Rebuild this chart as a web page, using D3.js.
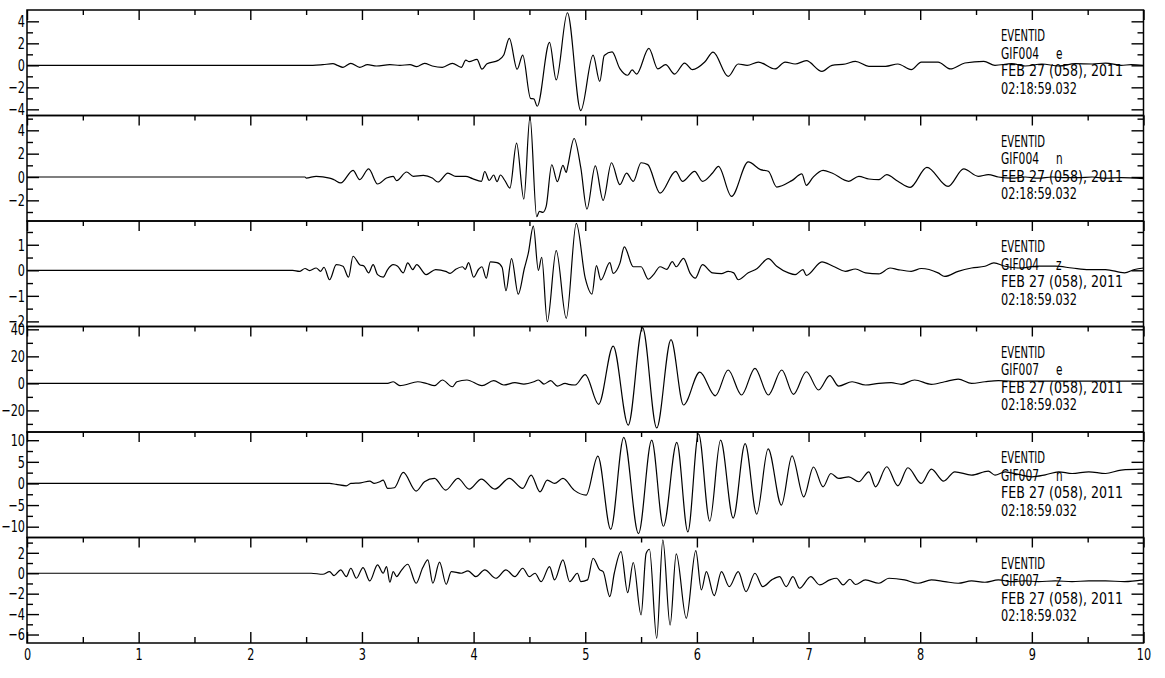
<!DOCTYPE html>
<html>
<head>
<meta charset="utf-8">
<script src="https://cdn.jsdelivr.net/npm/d3@7"></script>
<style>
  body { margin: 0; background: #fff; }
  svg text { font-family: "DejaVu Sans Condensed", "Liberation Sans Narrow", sans-serif; fill: #000; }
</style>
</head>
<body>
<svg id="chart" width="1165" height="678"></svg>
<script>
/* Data */
const xTicks = [0, 1, 2, 3, 4, 5, 6, 7, 8, 9, 10];
const xMinorTicks = [0.5, 1.5, 2.5, 3.5, 4.5, 5.5, 6.5, 7.5, 8.5, 9.5];
const eventLabel = 'EVENTID';
const dateLabel = 'FEB 27 (058), 2011';
const timeLabel = '02:18:59.032';
const stations = ['GIF004', 'GIF004', 'GIF004', 'GIF007', 'GIF007', 'GIF007'];
const components = ['e', 'n', 'z', 'e', 'n', 'z'];

const yDomains = [[-4.56, 5.03], [-3.77, 5.27], [-2.2, 1.93], [-36, 42.1], [-12.5, 11.9], [-6.83, 3.5]];
const yMajorTicks = [[-4, -2, 0, 2, 4], [-2, 0, 2, 4], [-2, -1, 0, 1], [-20, 0, 20, 40], [-10, -5, 0, 5, 10], [-6, -4, -2, 0, 2]];
const yMinorTicks = [[-3, -1, 1, 3], [-3, -1, 1, 3, 5], [-1.5, -0.5, 0.5, 1.5], [-30, -10, 10, 30], [-7.5, -2.5, 2.5, 7.5], [-5, -3, -1, 1, 3]];

// [seconds, amplitude]
const gif004e = [[0,0],[2.56,0],[2.65,0.06],[2.74,0.15],[2.78,0],[2.83,-0.18],[2.9,0.18],[2.98,-0.18],[3.05,0.06],[3.13,-0.06],[3.25,0.06],[3.34,0],[3.43,0.06],[3.49,-0.12],[3.56,0.18],[3.63,-0.06],[3.72,-0.18],[3.81,0.18],[3.89,-0.18],[3.93,0.48],[3.96,0.33],[4.03,0.55],[4.075,-0.35],[4.12,0.15],[4.22,0.45],[4.27,0.94],[4.32,2.45],[4.39,-0.35],[4.44,0.93],[4.51,-3.0],[4.54,-3.05],[4.57,-3.72],[4.68,2.09],[4.74,-1.33],[4.84,4.78],[4.96,-4.12],[5.07,0.92],[5.13,-1.46],[5.17,0.9],[5.24,1.22],[5.31,-0.3],[5.38,-0.9],[5.42,-0.42],[5.46,-0.79],[5.57,1.54],[5.65,-0.33],[5.72,0.06],[5.8,-0.79],[5.89,0.21],[5.96,-0.39],[6.07,0.3],[6.145,1.2],[6.28,-1.0],[6.37,0.12],[6.45,0],[6.55,0.3],[6.7,-0.33],[6.79,0.3],[6.88,0.12],[6.98,0.42],[7.12,-0.55],[7.21,0],[7.33,0.12],[7.42,0.36],[7.54,-0.09],[7.69,-0.09],[7.8,0.12],[7.92,-0.39],[8.01,0.3],[8.16,0.3],[8.27,-0.33],[8.4,0.21],[8.57,0.36],[8.67,0],[8.82,0.15],[8.94,-0.06],[9.09,0.12],[9.24,-0.06],[9.39,0.15],[9.54,0.12],[9.66,0.21],[9.8,0],[9.89,0.06],[10,0]];

const gif004n = [[0,0],[2.49,0],[2.5,-0.09],[2.59,0.06],[2.71,-0.09],[2.75,-0.23],[2.81,-0.51],[2.92,0.57],[2.98,-0.23],[3.06,0.69],[3.14,-0.6],[3.22,-0.09],[3.28,0.06],[3.31,-0.31],[3.4,0.43],[3.46,0.06],[3.55,0.14],[3.63,-0.09],[3.68,-0.43],[3.77,0.34],[3.84,0.06],[3.93,0.06],[3.99,-0.14],[4.07,-0.37],[4.1,0.47],[4.14,-0.3],[4.18,0.17],[4.21,-0.4],[4.24,0.17],[4.28,-0.3],[4.325,-0.95],[4.385,2.9],[4.45,-1.9],[4.505,5.15],[4.565,-3.4],[4.59,-2.94],[4.62,-3.03],[4.65,-2.51],[4.7,1.05],[4.75,-0.4],[4.8,1.0],[4.83,0.4],[4.845,1.0],[4.9,3.3],[4.96,0.8],[5.015,-2.75],[5.09,0.95],[5.16,-2.0],[5.235,1.22],[5.31,-0.66],[5.37,0.34],[5.43,-0.37],[5.5,1.22],[5.56,1.06],[5.67,-1.38],[5.81,0.49],[5.87,-0.37],[5.98,0.49],[6.05,-0.37],[6.14,0.34],[6.193,0.91],[6.31,-1.66],[6.46,1.29],[6.57,0.63],[6.64,0.49],[6.715,-0.86],[6.85,-0.31],[6.94,0.26],[6.98,-0.71],[7.04,-0.03],[7.13,0.57],[7.21,0.34],[7.36,-0.37],[7.45,0.06],[7.54,-0.17],[7.63,-0.23],[7.7,0.2],[7.8,-0.37],[7.91,-0.89],[8.06,0.83],[8.25,-0.8],[8.39,0.69],[8.52,0.06],[8.61,0.2],[8.7,0],[8.82,-0.1],[8.94,0],[9.06,-0.1],[9.18,0],[9.3,-0.06],[9.42,-0.06],[9.54,0],[9.66,-0.1],[9.8,-0.06],[10,-0.14]];

const gif004z = [[0,0],[2.38,0],[2.44,-0.04],[2.49,0.07],[2.53,-0.01],[2.59,0.09],[2.63,-0.04],[2.66,0.12],[2.71,-0.37],[2.77,0.22],[2.83,0.16],[2.88,-0.27],[2.92,0.55],[2.98,0.22],[3.02,0.16],[3.06,-0.1],[3.1,0.22],[3.14,-0.17],[3.19,-0.27],[3.23,0.03],[3.28,0.22],[3.32,0.16],[3.37,-0.1],[3.41,0.29],[3.455,0.03],[3.49,0.22],[3.575,-0.17],[3.66,0.03],[3.75,-0.04],[3.79,-0.12],[3.84,0.04],[3.9,0.14],[3.925,0.04],[3.955,0.3],[4.0,-0.27],[4.045,0.04],[4.075,0.14],[4.113,-0.31],[4.15,0.33],[4.21,0.3],[4.255,0.12],[4.29,-0.8],[4.34,0.46],[4.4,-0.93],[4.455,0.08],[4.49,0.67],[4.535,1.73],[4.58,0],[4.61,0.51],[4.66,-2.01],[4.74,0.77],[4.83,-1.88],[4.92,1.84],[5.0,-0.31],[5.06,-0.93],[5.1,0.18],[5.14,-0.38],[5.22,0.3],[5.25,-0.12],[5.31,0.27],[5.35,0.92],[5.43,0.14],[5.5,0.14],[5.565,-0.35],[5.61,-0.18],[5.67,0.14],[5.73,0.04],[5.78,0.34],[5.815,0.14],[5.88,0.47],[5.94,-0.12],[5.985,-0.31],[6.05,0.22],[6.14,-0.1],[6.22,-0.13],[6.28,-0.04],[6.33,-0.1],[6.37,-0.37],[6.46,-0.1],[6.54,0.07],[6.64,0.46],[6.715,0.16],[6.82,-0.1],[6.88,-0.17],[6.95,0.03],[6.98,-0.2],[7.12,0.33],[7.22,0.16],[7.33,-0.04],[7.42,0.05],[7.51,-0.1],[7.63,-0.14],[7.73,0.09],[7.8,0.03],[7.92,-0.04],[8.01,0.07],[8.16,-0.1],[8.22,-0.24],[8.34,-0.04],[8.46,0.09],[8.58,0.16],[8.66,0.29],[8.76,0.16],[8.88,0.09],[9.06,0.16],[9.21,0.16],[9.36,0.09],[9.51,0.03],[9.66,0.03],[9.83,-0.1],[9.92,0.03],[10,0.09]];

const gif007e = [[0,0],[3.23,0],[3.28,1.2],[3.34,-1.7],[3.38,-1.2],[3.5,1.2],[3.575,0],[3.65,-1.7],[3.72,2.5],[3.81,-2.5],[3.85,1.2],[3.94,2.5],[4.075,-1.7],[4.18,2.0],[4.27,-1.2],[4.37,0.5],[4.45,-0.5],[4.54,1.2],[4.58,2.5],[4.63,-0.5],[4.69,2.0],[4.75,-2.0],[4.82,0],[4.85,-0.7],[4.91,-1.2],[5.0,6.5],[5.12,-15.5],[5.25,27.6],[5.385,-30.9],[5.513,41.2],[5.64,-33.0],[5.768,32.4],[5.88,-16.0],[6.026,8.3],[6.165,-9.2],[6.28,9.9],[6.4,-8.6],[6.52,11.1],[6.64,-8.6],[6.76,9.9],[6.865,-8.1],[6.98,8.6],[7.09,-4.9],[7.19,5.7],[7.27,-2.0],[7.39,1.2],[7.51,-1.2],[7.63,0],[7.74,0.5],[7.83,-0.7],[7.95,2.5],[8.1,-0.7],[8.22,1.2],[8.34,3.2],[8.46,0],[8.58,1.2],[8.7,2.0],[8.88,1.5],[9.06,1.7],[9.24,1.7],[9.42,1.7],[9.66,1.7],[10,1.7]];

const gif007n = [[0,0],[2.71,0],[2.77,-0.23],[2.86,-0.54],[2.9,0],[2.99,0.15],[3.07,0.54],[3.11,0],[3.16,0.39],[3.19,0.77],[3.23,-1.16],[3.29,-1.0],[3.37,2.55],[3.485,-1.77],[3.56,0.39],[3.65,1.16],[3.75,-1.54],[3.86,1.16],[3.96,-1.31],[4.07,1.0],[4.19,-1.31],[4.32,1.16],[4.44,-1.16],[4.515,1.93],[4.595,-1.93],[4.66,0.77],[4.725,0],[4.8,1.16],[4.9,-1.54],[5.008,-2.7],[5.113,6.33],[5.228,-10.6],[5.345,10.65],[5.477,-11.6],[5.595,10.0],[5.7,-9.9],[5.82,9.5],[5.919,-11.2],[6.015,11.5],[6.115,-8.7],[6.212,10.0],[6.325,-8.0],[6.432,9.2],[6.536,-7.1],[6.638,8.0],[6.757,-5.0],[6.852,6.4],[6.957,-3.1],[7.044,3.8],[7.13,-0.77],[7.2,2.3],[7.27,1.16],[7.36,1.54],[7.45,0.39],[7.54,2.7],[7.6,-0.77],[7.7,3.86],[7.8,-0.54],[7.89,3.63],[8.01,0],[8.1,3.32],[8.21,0.54],[8.31,2.7],[8.46,1.93],[8.61,2.85],[8.67,1.93],[8.76,2.7],[8.88,2.08],[9.0,1.54],[9.12,2.0],[9.24,2.7],[9.36,2.3],[9.51,2.7],[9.66,2.3],[9.8,3.1],[10,3.3]];

const gif007z = [[0,0],[2.545,0],[2.65,-0.1],[2.71,0.16],[2.75,-0.23],[2.81,0.33],[2.86,-0.33],[2.9,0.49],[2.95,-0.49],[3.01,0.56],[3.07,-0.75],[3.14,0.82],[3.19,0],[3.22,0.65],[3.25,-0.88],[3.28,0.16],[3.31,-0.33],[3.35,0.23],[3.41,0.88],[3.485,-0.98],[3.545,0.56],[3.59,1.31],[3.635,-0.98],[3.695,1.08],[3.755,-1.08],[3.8,0.16],[3.89,0],[3.95,0.23],[4.02,-0.33],[4.1,0.33],[4.2,-0.49],[4.29,0.33],[4.37,-0.33],[4.44,0.49],[4.5,-0.33],[4.55,0],[4.605,-0.82],[4.68,0.65],[4.725,-0.65],[4.8,1.31],[4.86,-0.82],[4.93,0],[4.96,-0.82],[5.02,-0.65],[5.07,1.47],[5.13,0.33],[5.16,0.16],[5.22,-2.29],[5.26,0],[5.32,2.12],[5.38,-1.9],[5.43,1.05],[5.5,-4.08],[5.545,1.94],[5.575,2.35],[5.64,-6.37],[5.695,3.27],[5.76,-5.07],[5.815,1.9],[5.905,-4.41],[5.99,2.22],[6.04,-1.63],[6.085,0.16],[6.155,-2.2],[6.22,0.16],[6.29,-1.31],[6.37,0.16],[6.44,-1.8],[6.52,0],[6.59,-1.31],[6.67,-0.65],[6.74,-0.33],[6.8,-1.31],[6.86,-0.33],[6.92,-1.47],[7.02,-0.33],[7.1,-1.14],[7.19,-0.65],[7.25,-0.49],[7.31,-1.14],[7.37,-0.59],[7.42,-1.1],[7.51,-0.65],[7.63,-0.98],[7.72,-0.49],[7.86,-0.65],[7.98,-0.98],[8.1,-0.65],[8.22,-0.82],[8.34,-0.98],[8.46,-0.75],[8.58,-0.88],[8.7,-0.65],[8.82,-0.82],[8.94,-0.75],[9.06,-0.82],[9.21,-0.75],[9.36,-0.82],[9.51,-0.75],[9.66,-0.75],[9.83,-0.82],[10,-0.65]];

const traces = [gif004e, gif004n, gif004z, gif007e, gif007n, gif007z];

/* SVG */
const svg = d3.select('#chart');
const margin = { top: 10, left: 27, right: 21.5 };
const plotRight = 1165 - margin.right;
const panelH = 105.5;

const x = d3.scaleLinear().domain([0, 10]).range([margin.left, plotRight]);

const line = d3.line()
  .x(d => x(d[0]))
  .curve(d3.curveMonotoneX);

// narrow the glyphs like the plotter font
function squeeze(sel, f) {
  sel.each(function () {
    const w = this.getComputedTextLength();
    d3.select(this).attr('textLength', w * f).attr('lengthAdjust', 'spacingAndGlyphs');
  });
}

function styleAxis(g) {
  g.select('.domain').remove();
  g.selectAll('line').attr('stroke', '#000').attr('stroke-width', 1.4);
  g.selectAll('text').attr('font-size', 16.5).call(squeeze, 0.76);
}

traces.forEach((trace, i) => {
  const top = margin.top + i * panelH;
  const y = d3.scaleLinear().domain(yDomains[i]).range([top + panelH, top]);
  const p = svg.append('g').attr('class', 'panel');

  // left axis, ticks inside
  p.append('g').attr('transform', `translate(${margin.left},0)`)
    .call(d3.axisLeft(y).tickValues(yMajorTicks[i]).tickSize(-12).tickPadding(2).tickFormat(d3.format('d')))
    .call(styleAxis);
  p.append('g').attr('transform', `translate(${margin.left},0)`)
    .call(d3.axisLeft(y).tickValues(yMinorTicks[i]).tickSize(-6).tickFormat(''))
    .call(styleAxis);

  // right axis mirror
  p.append('g').attr('transform', `translate(${plotRight},0)`)
    .call(d3.axisRight(y).tickValues(yMajorTicks[i]).tickSize(-12).tickFormat(''))
    .call(styleAxis);
  p.append('g').attr('transform', `translate(${plotRight},0)`)
    .call(d3.axisRight(y).tickValues(yMinorTicks[i]).tickSize(-6).tickFormat(''))
    .call(styleAxis);

  // top time ticks pointing down
  p.append('g').attr('transform', `translate(0,${top})`)
    .call(d3.axisTop(x).tickValues(xTicks).tickSize(-10).tickFormat(''))
    .call(styleAxis);
  p.append('g').attr('transform', `translate(0,${top})`)
    .call(d3.axisTop(x).tickValues(xMinorTicks).tickSize(-5).tickFormat(''))
    .call(styleAxis);

  // panel frame
  p.append('rect')
    .attr('x', margin.left).attr('y', top)
    .attr('width', plotRight - margin.left).attr('height', panelH)
    .attr('fill', 'none').attr('stroke', '#000').attr('stroke-width', 1.5);

  // trace
  p.append('path')
    .datum(trace)
    .attr('d', line.y(d => y(d[1])))
    .attr('fill', 'none')
    .attr('stroke', '#000')
    .attr('stroke-width', 1.2);

  // header text
  const tx = 1001;
  const lab = p.append('g').attr('font-size', 15.5);
  const fit = (t, w) => t.attr('textLength', w).attr('lengthAdjust', 'spacingAndGlyphs');
  lab.append('text').attr('x', tx).attr('y', top + 31).text(eventLabel).call(fit, 44);
  lab.append('text').attr('x', tx).attr('y', top + 48.5).text(stations[i]).call(fit, 38);
  lab.append('text').attr('x', tx + 55).attr('y', top + 48.5).text(components[i]).call(squeeze, 0.75);
  lab.append('text').attr('x', tx).attr('y', top + 66).text(dateLabel).call(fit, 122);
  lab.append('text').attr('x', tx).attr('y', top + 83.5).text(timeLabel).call(fit, 76);

  // bottom time axis on last panel
  if (i === traces.length - 1) {
    p.append('g').attr('transform', `translate(0,${top + panelH})`)
      .call(d3.axisBottom(x).tickValues(xTicks).tickSize(-11).tickPadding(5).tickFormat(d3.format('d')))
      .call(styleAxis);
    p.append('g').attr('transform', `translate(0,${top + panelH})`)
      .call(d3.axisBottom(x).tickValues(xMinorTicks).tickSize(-6).tickFormat(''))
      .call(styleAxis);
  }
});
</script>
</body>
</html>
